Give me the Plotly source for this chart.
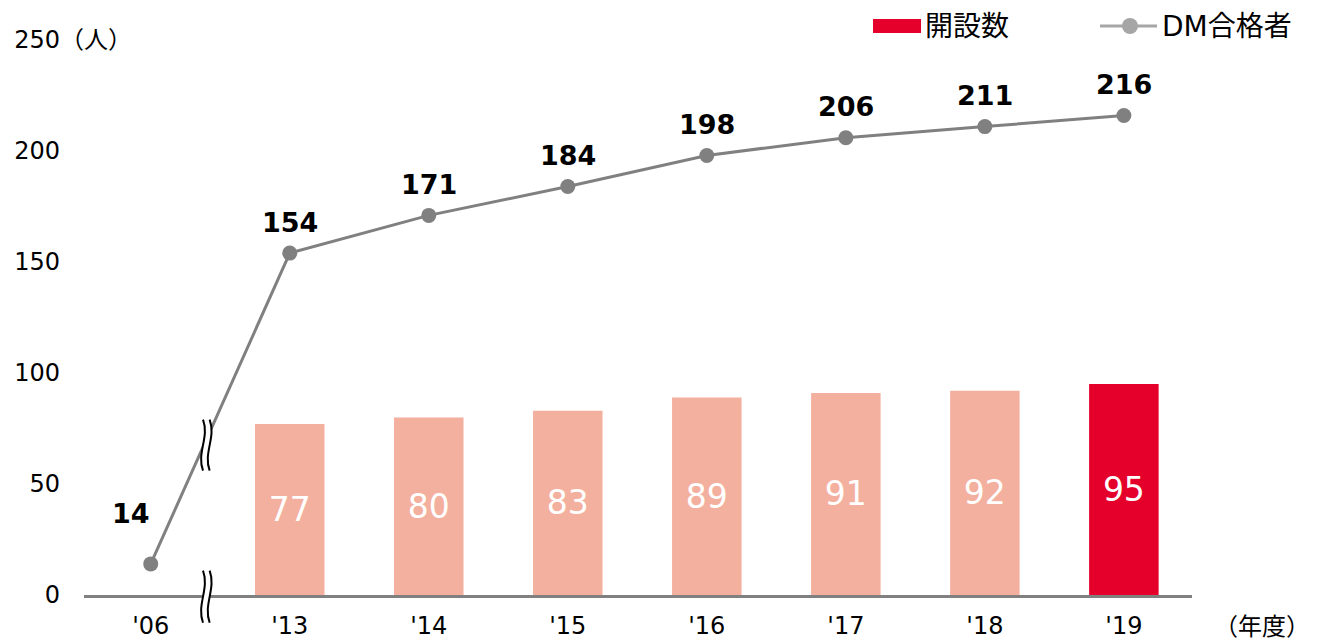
import plotly.graph_objects as go

# donnees
annees = ["'06", "'13", "'14", "'15", "'16", "'17", "'18", "'19"]
dm_goukaku = [14, 154, 171, 184, 198, 206, 211, 216]
bar_annees = ["'13", "'14", "'15", "'16", "'17", "'18", "'19"]
kaisetsu = [77, 80, 83, 89, 91, 92, 95]
yticks = [0, 50, 100, 150, 200, 250]

idx = {a: i for i, a in enumerate(annees)}
x_line = [idx[a] for a in annees]
x_bar = [idx[a] for a in bar_annees]

ROUGE = "#E4002B"
SAUMON = "#F4B09E"
GRIS = "#808080"
POLICE = "DejaVu Sans, Noto Sans CJK JP"

couleurs = [SAUMON] * (len(kaisetsu) - 1) + [ROUGE]

fig = go.Figure()
fig.add_trace(go.Bar(
    x=x_bar, y=kaisetsu, width=0.5, marker=dict(color=couleurs, line=dict(width=0)),
    text=[str(v) for v in kaisetsu], textposition="inside", insidetextanchor="middle",
    textfont=dict(color="white", size=33, family=POLICE), showlegend=False, hoverinfo="skip"))
fig.add_trace(go.Scatter(
    x=x_line, y=dm_goukaku, mode="lines+markers",
    line=dict(color=GRIS, width=3), marker=dict(color=GRIS, size=15),
    showlegend=False, hoverinfo="skip"))

# etiquettes au-dessus des points
for i, (xv, yv) in enumerate(zip(x_line, dm_goukaku)):
    fig.add_annotation(x=xv, y=yv, text="<b>%d</b>" % yv, showarrow=False,
                       xshift=-20 if i == 0 else 0, yshift=50 if i == 0 else 31,
                       font=dict(size=27, color="black", family=POLICE))

xmin, xmax = -0.48, 7.49
ymin, ymax = 0, 250

def px(xv):
    return (xv - xmin) / (xmax - xmin)

# marques de coupure de l'axe
xb = px(0.40)
dx = 0.006
for y0, y1 in [(79 / 250, 56 / 250), (11 / 250, -0.05)]:
    h = y1 - y0
    xa, xc = xb - dx / 2, xb + dx / 2
    fig.add_shape(type="path", xref="paper", yref="paper", layer="above",
                  path="M %f,%f C %f,%f %f,%f %f,%f L %f,%f C %f,%f %f,%f %f,%f Z" % (
                      xa, y0, xa + 0.006, y0 + h * 0.35, xa - 0.006, y0 + h * 0.65, xa, y1,
                      xc, y1, xc - 0.006, y0 + h * 0.65, xc + 0.006, y0 + h * 0.35, xc, y0),
                  fillcolor="white", line=dict(width=0))
    for xx in (xa, xc):
        fig.add_shape(type="path", xref="paper", yref="paper", layer="above",
                      path="M %f,%f C %f,%f %f,%f %f,%f" % (
                          xx, y0, xx + 0.006, y0 + h * 0.35, xx - 0.006, y0 + h * 0.65, xx, y1),
                      line=dict(color="black", width=2))

# legende faite a la main (coordonnees relatives a la zone de trace)
ly = (595 - 26) / 555
fig.add_shape(type="rect", xref="paper", yref="paper", x0=(873 - 84) / 1108, x1=(921 - 84) / 1108,
              y0=(595 - 33) / 555, y1=(595 - 19) / 555, fillcolor=ROUGE, line=dict(width=0))
fig.add_annotation(xref="paper", yref="paper", x=(923 - 84) / 1108, y=ly, xanchor="left", yanchor="middle",
                   text="開設数", showarrow=False, font=dict(size=28, color="black", family=POLICE))
fig.add_shape(type="line", xref="paper", yref="paper", x0=(1100 - 84) / 1108, x1=(1157 - 84) / 1108,
              y0=ly, y1=ly, line=dict(color="#A6A6A6", width=3))
fig.add_shape(type="circle", xref="paper", yref="paper", x0=(1122 - 84) / 1108, x1=(1138 - 84) / 1108,
              y0=ly - 8 / 555, y1=ly + 8 / 555, fillcolor="#A6A6A6", line=dict(width=0))
fig.add_annotation(xref="paper", yref="paper", x=(1160 - 84) / 1108, y=ly, xanchor="left", yanchor="middle",
                   text="DM合格者", showarrow=False, font=dict(size=28, color="black", family=POLICE))

# unites
fig.add_annotation(xref="paper", yref="paper", x=(58 - 84) / 1108, y=1.0, xanchor="left", yanchor="middle",
                   text="（人）", showarrow=False, font=dict(size=24, color="black", family=POLICE))
fig.add_annotation(xref="paper", yref="paper", x=(1212 - 84) / 1108, y=-32 / 555, xanchor="left",
                   yanchor="middle",
                   text="（年度）", showarrow=False, font=dict(size=24, color="black", family=POLICE))

fig.update_layout(
    width=1318, height=641,
    margin=dict(l=84, r=126, t=40, b=46),
    plot_bgcolor="white", paper_bgcolor="white",
    font=dict(family=POLICE, size=24, color="black"),
    xaxis=dict(range=[xmin, xmax], tickvals=x_line, ticktext=annees, showgrid=False,
               zeroline=False, showline=True, linecolor=GRIS, linewidth=3, automargin=False,
               ticks="", ticklabelstandoff=7, tickfont=dict(size=24)),
    yaxis=dict(range=[ymin, ymax], tickvals=yticks, showgrid=False, zeroline=False, automargin=False,
               showline=False, ticks="", ticklabelstandoff=23, tickfont=dict(size=24)),
)

# on enleve la marge par defaut de la page pour que la figure tienne dans la fenetre
fig.write_html("out.html", config={"displayModeBar": False},
               post_script="document.body.style.margin='0';document.body.style.overflow='hidden';")
